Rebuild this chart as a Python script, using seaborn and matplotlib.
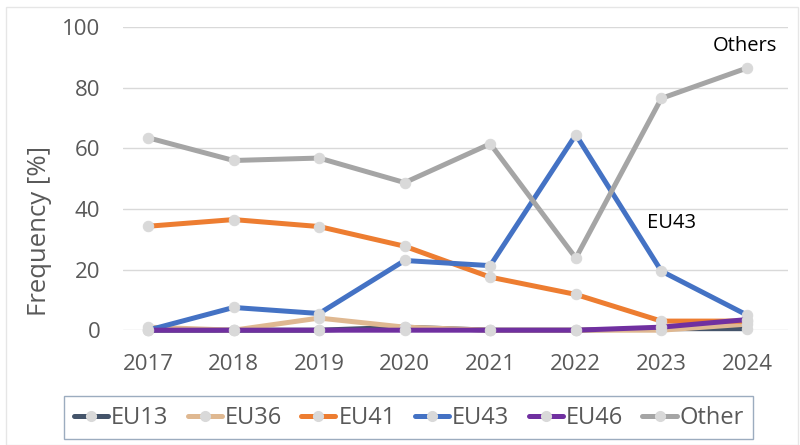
import matplotlib
matplotlib.use("Agg")
import matplotlib.pyplot as plt
import seaborn as sns
import pandas as pd
from matplotlib.lines import Line2D
from matplotlib.patches import Rectangle

years = [2017, 2018, 2019, 2020, 2021, 2022, 2023, 2024]
series_names = ["EU13", "EU36", "EU41", "EU43", "EU46", "Other"]
eu13 = [0, 0, 0, 1, 0, 0, 0.5, 0.5]
eu36 = [1, 0, 4, 1, 0, 0, 0, 2]
eu41 = [34.3, 36.5, 34.2, 27.7, 17.5, 11.8, 3, 3]
eu43 = [0, 7.5, 5.5, 23, 21.3, 64.5, 19.5, 5]
eu46 = [0, 0, 0, 0, 0, 0, 1, 3.5]
other = [63.5, 56, 56.8, 48.7, 61.5, 23.8, 76.5, 86.5]
colors = ["#44546a", "#dfb891", "#ed7d31", "#4472c4", "#7030a0", "#a5a5a5"]
yticks = [0, 20, 40, 60, 80, 100]

values = [eu13, eu36, eu41, eu43, eu46, other]
df = pd.concat([pd.DataFrame({"Year": years, "Value": v, "Series": n})
                for n, v in zip(series_names, values)], ignore_index=True)

sns.set_theme(style="white")
plt.rcParams["font.family"] = ["Open Sans", "DejaVu Sans"]
txt = "#595959"

fig = plt.figure(figsize=(8, 4.45), dpi=100)
ax = fig.add_axes([0.154, 0.258, 0.831, 0.681])

for i, (n, c) in enumerate(zip(series_names, colors)):
    sub = df[df["Series"] == n]
    sns.lineplot(data=sub, x="Year", y="Value", color=c, ax=ax, lw=3.6,
                 marker="o", markersize=7.5, markerfacecolor="#d9d9d9",
                 markeredgecolor="#d9d9d9", zorder=3 + i, clip_on=False,
                 legend=False)

ax.set_xlim(2017 - 0.29, 2024 + 0.48)
ax.set_ylim(0, 100)
ax.set_yticks(yticks)
ax.set_xticks(years)
ax.set_xticklabels([str(y) for y in years])
ax.yaxis.grid(True, color="#d9d9d9", lw=1)
ax.xaxis.grid(False)
for s in ax.spines.values():
    s.set_visible(False)
ax.tick_params(axis="both", colors=txt, labelsize=16, length=0)
ax.tick_params(axis="x", pad=17)
ax.tick_params(axis="y", pad=16.5)
ax.set_xlabel("")
ax.set_ylabel("Frequency [%]", fontsize=18.5, color=txt)
ax.yaxis.set_label_coords(-0.107, 0.326)

ax.text(2024 - 0.02, 90.5, "Others", fontsize=14.5, color="black", ha="center", va="bottom")
ax.text(2023.12, 35.5, "EU43", fontsize=14.5, color="black", ha="center", va="center")

handles = [Line2D([0], [0], color=c, lw=3.6, marker="o", markersize=7,
                  markerfacecolor="#d9d9d9", markeredgecolor="#d9d9d9")
           for c in colors]
leg = fig.legend(handles, series_names, loc="center", bbox_to_anchor=(0.511, 0.061),
                 ncol=6, frameon=True, fontsize=17, handlelength=1.45,
                 handletextpad=0.12, columnspacing=0.82, labelcolor=txt,
                 fancybox=False, borderpad=0.4)
leg.get_frame().set_edgecolor("#8497b0")
leg.get_frame().set_linewidth(1)

fig.patches.append(Rectangle((0.008, 0.0), 0.99, 0.985, transform=fig.transFigure,
                             fill=False, edgecolor="#e6e6e6", lw=1))

fig.savefig("out.png", dpi=100)
